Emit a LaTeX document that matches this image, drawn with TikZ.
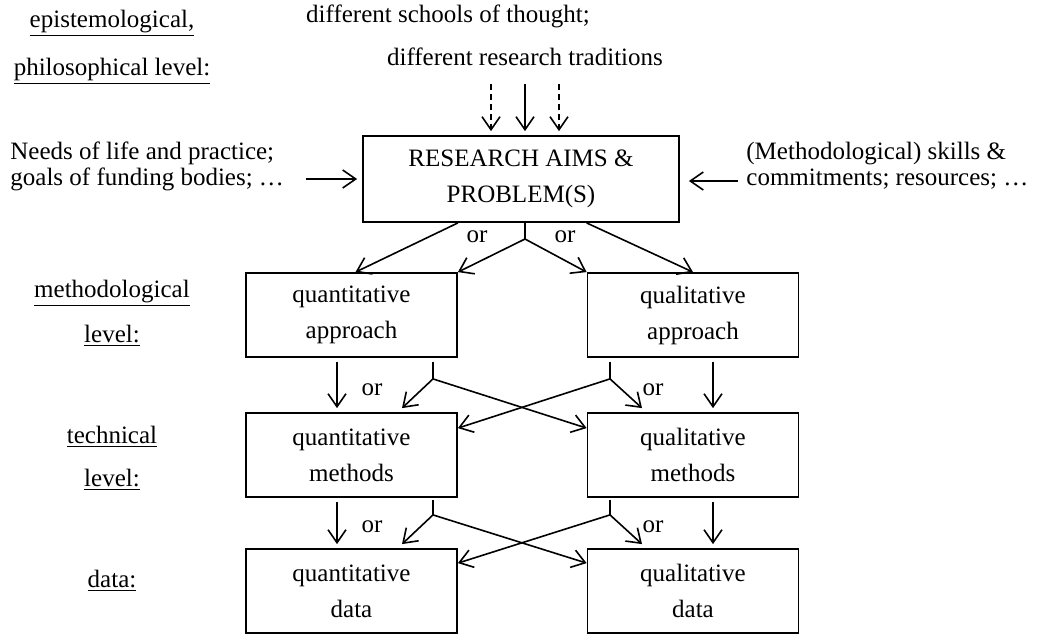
\documentclass[tikz,border=0pt]{standalone}
\usepackage{fontspec}
\setmainfont{Liberation Serif}
\usetikzlibrary{arrows.meta,calc}
\begin{document}
\begin{tikzpicture}[x=0.5pt,y=-0.5pt,
  font=\fontsize{12.5}{18}\selectfont,
  every node/.style={inner sep=0pt},
  box/.style={draw,line width=0.9pt,align=center,minimum width=105.5pt,minimum height=42pt},
  bigbox/.style={box,minimum width=158pt,minimum height=43pt},
  link/.style={line width=0.8pt},
  arr/.style={link,-{Straight Barb[length=6.5pt,width=9pt]}},
  gapped/.style={shorten <=2pt,shorten >=2pt},
  sidetext/.style={align=left,font=\fontsize{12.5}{13}\selectfont},
  lvl/.style={anchor=base},
  ortext/.style={anchor=center}
]
\useasboundingbox (0,0) rectangle (1040,634);

% ---- level labels (left column)
\node[lvl] (epi)  at (112,27)  {\underline{epistemological,}};
\node[lvl] (phil) at (112,75)  {\underline{philosophical level:}};
\node[lvl] (meth) at (112,297) {\underline{methodological}};
\node[lvl] (mlev) at (112,342) {\underline{level:}};
\node[lvl] (tech) at (112,443) {\underline{technical}};
\node[lvl] (tlev) at (112,486) {\underline{level:}};
\node[lvl] (dlev) at (112,587) {\underline{data:}};

% ---- top influences
\node[lvl] (schools) at (448,22) {different schools of thought;};
\node[lvl] (trad)    at (525,65) {different research traditions};

% ---- boxes
\node[bigbox] (res) at (521,179) {RESEARCH AIMS \&\\PROBLEM(S)};
\node[box] (qa) at (351.5,315) {quantitative\\approach};
\node[box] (la) at (693,315)   {qualitative\\approach};
\node[box] (qm) at (351.5,455) {quantitative\\methods};
\node[box] (lm) at (693,455)   {qualitative\\methods};
\node[box] (qd) at (351.5,591) {quantitative\\data};
\node[box] (ld) at (693,591)   {qualitative\\data};

% ---- side influences
\node[sidetext,anchor=west] (needs)  at (10,166)
  {Needs of life and practice;\\goals of funding bodies; …};
\node[sidetext,anchor=west] (skills) at (746,166)
  {(Methodological) skills \&\\commitments; resources; …};

\coordinate (inL) at (306,179);
\coordinate (inR) at (738,181);
\draw[arr] (inL) -- ($(inL -| res.west)+(-5,0)$);
\draw[arr] (inR) -- ($(inR -| res.east)+(9,0)$);

% ---- arrows from the traditions
\coordinate (t1) at (491,84);
\coordinate (t2) at (525,84);
\coordinate (t3) at (559,84);
\draw[arr,dash pattern=on 3pt off 2pt] (t1) -- ($(t1 |- res.north)+(0,-4)$);
\draw[arr] (t2) -- ($(t2 |- res.north)+(0,-4)$);
\draw[arr,dash pattern=on 3pt off 2pt] (t3) -- ($(t3 |- res.north)+(0,-4)$);

% ---- research aims -> approaches
\coordinate (fork) at (525,239);
\draw[link] (res.south -| fork) -- (fork);
\draw[arr] (fork) -- (qa.north east);
\draw[arr] (fork) -- (la.north west);
\draw[arr] (res.south -| qa.east) -- ($(qa.north)+(4,0)$);
\draw[arr] (res.south -| la.west) -- (la.north);
\node[ortext] (or1) at (477,237) {or};
\node[ortext] (or2) at (565,237) {or};

% ---- approaches -> methods
\coordinate (qf1) at ($(qa.south)+(81.5,21)$);
\coordinate (lf1) at ($(la.south)+(-83,21)$);
\draw[arr,gapped] ($(qa.south)+(-14.5,0)$) -- ($(qm.north)+(-14.5,0)$);
\draw[link] ($(qf1 |- qa.south)+(0,4)$) -- (qf1);
\draw[arr] (qf1) -- ($(qm.north)+(50.5,-4)$);
\draw[arr] (qf1) -- ($(lm.north west)+(0,16)$);
\draw[link] ($(lf1 |- la.south)+(0,4)$) -- (lf1);
\draw[arr] (lf1) -- ($(lm.north)+(-51,-4)$);
\draw[arr] (lf1) -- ($(qm.north east)+(0,16)$);
\draw[arr,gapped] ($(la.south)+(20,0)$) -- ($(lm.north)+(20,0)$);
\node[ortext] (or3) at (372,390) {or};
\node[ortext] (or4) at (653,390) {or};

% ---- methods -> data
\coordinate (qf2) at ($(qm.south)+(81.5,17)$);
\coordinate (lf2) at ($(lm.south)+(-83,17)$);
\draw[arr,gapped] ($(qm.south)+(-14.5,0)$) -- ($(qd.north)+(-14.5,0)$);
\draw[link] ($(qf2 |- qm.south)+(0,2)$) -- (qf2);
\draw[arr] (qf2) -- ($(qd.north)+(50.5,-4)$);
\draw[arr] (qf2) -- ($(ld.north west)+(0,15)$);
\draw[link] ($(lf2 |- lm.south)+(0,2)$) -- (lf2);
\draw[arr] (lf2) -- ($(ld.north)+(-51,-4)$);
\draw[arr] (lf2) -- ($(qd.north east)+(0,15)$);
\draw[arr,gapped] ($(lm.south)+(20,0)$) -- ($(ld.north)+(20,0)$);
\node[ortext] (or5) at (372,527) {or};
\node[ortext] (or6) at (653,527) {or};
\end{tikzpicture}
\end{document}
